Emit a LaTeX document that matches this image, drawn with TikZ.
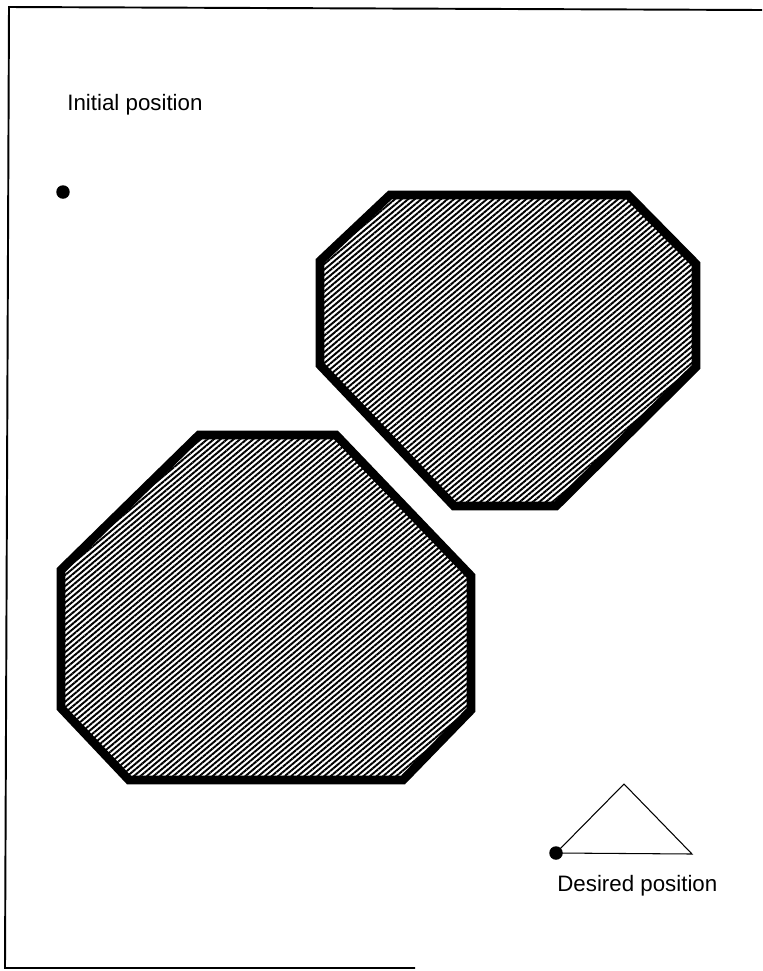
\documentclass[tikz,border=0pt]{standalone}
\usepackage{fontspec}
\setmainfont{Liberation Sans}
\usetikzlibrary{patterns.meta}

\tikzset{
  obstacle/.style={line width=5pt, pattern={Lines[angle=40, distance=2.4pt, line width=1.1pt]}},
  label/.style={font=\fontsize{12.7}{15}\selectfont, inner sep=0pt},
  spot/.style={circle, fill=black, inner sep=0pt, minimum size=0.27cm},
  frameline/.style={line width=1.1pt}
}

\begin{document}
\begin{tikzpicture}[x=0.02cm, y=-0.02cm]
\useasboundingbox (0,0) rectangle (762,971);
% frame
\draw[frameline] (762,10) -- (9,7) -- (5,968) -- (415,968);
% obstacles
\draw[obstacle] (390,195) -- (628,195) -- (696,264) -- (696,367) -- (556,506) -- (454,506) -- (320,365) -- (320,261) -- cycle;
\draw[obstacle] (199,435) -- (336,435) -- (471,576) -- (471,710) -- (403,780) -- (129,780) -- (61,708) -- (61,570) -- cycle;
% start and goal
\node[label, anchor=base west] (initlabel) at (67,110) {Initial position};
\node[spot] (init) at (63,192) {};
\node[spot] (goal) at (556,853) {};
\coordinate (apex) at (624,784);
\coordinate (tip) at (692,854);
\draw[line width=0.6pt] (goal.center) -- (apex) -- (tip) -- (goal.center);
\node[label, anchor=base west] (goallabel) at (557,891) {Desired position};
\end{tikzpicture}
\end{document}
